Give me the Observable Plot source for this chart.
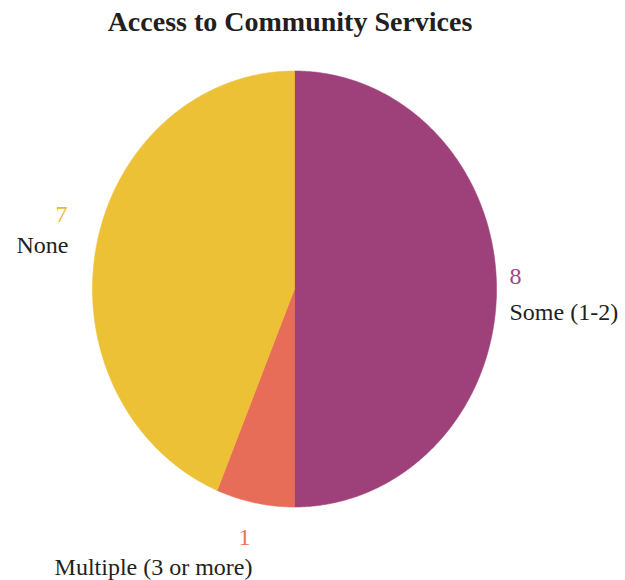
<!DOCTYPE html>
<html><head><meta charset="utf-8">
<script src="https://cdn.jsdelivr.net/npm/d3@7"></script>
<script src="https://cdn.jsdelivr.net/npm/@observablehq/plot@0.6"></script>
<style>
body{margin:0;background:#fff;}
#title{width:580px;height:50px;box-sizing:border-box;padding-top:8px;text-align:center;font-weight:bold;font-size:28px;line-height:28px;font-family:"Times New Roman",Times,"Liberation Serif","DejaVu Serif",serif;color:#231F20;}
#chart svg{display:block;}
</style></head>
<body>
<div id="title">Access to Community Services</div>
<div id="chart"></div>
<script>
const categories = ["Some (1-2)", "Multiple (3 or more)", "None"];
const counts = [8, 1, 7];
const sliceColors = ["#9E4079", "#E86D59", "#ECC136"];
const numberColors = ["#A2457F", "#EC7462", "#EAB92E"];
const serif = '"Times New Roman", Times, "Liberation Serif", "DejaVu Serif", serif';

const arcs = d3.pie().sort(null).value(d => d)(counts);
const pts = [];
arcs.forEach((a, i) => {
  const cat = categories[i];
  pts.push({cat, x: 0, y: 0});
  const n = Math.max(2, Math.ceil((a.endAngle - a.startAngle) / 0.005));
  for (let k = 0; k <= n; k++) {
    const t = a.startAngle + (a.endAngle - a.startAngle) * k / n;
    pts.push({cat, x: Math.sin(t), y: Math.cos(t)});
  }
  pts.push({cat, x: 0, y: 0});
});

const labels = arcs.map((a, i) => {
  const m = (a.startAngle + a.endAngle) / 2;
  return {cat: categories[i], count: counts[i], x: Math.sin(m), y: Math.cos(m), i};
});
const layout = {
  "Some (1-2)": {anchor: "start", num: [13, -12.5], name: [13, 23.5]},
  "None": {anchor: "end", num: [-29, -32], name: [-28, -1]},
  "Multiple (3 or more)": {anchor: "end", num: [-4.6, 35], name: [-2.6, 65]}
};

const textMarks = [];
labels.forEach(l => {
  const L = layout[l.cat];
  textMarks.push(Plot.text([l], {x: "x", y: "y", text: d => String(d.count), textAnchor: L.anchor,
    dx: L.num[0], dy: L.num[1], fill: numberColors[l.i], fontSize: 24, fontFamily: serif}));
  textMarks.push(Plot.text([l], {x: "x", y: "y", text: "cat", textAnchor: L.anchor,
    dx: L.name[0], dy: L.name[1], fill: "#231F20", fontSize: 24, fontFamily: serif}));
});

const chart = Plot.plot({
  width: 625, height: 530,
  marginLeft: 92, marginRight: 129, marginTop: 20.5, marginBottom: 73.5,
  x: {domain: [-1, 1], axis: null},
  y: {domain: [-1, 1], axis: null},
  color: {domain: categories, range: sliceColors},
  style: {background: "#fff", overflow: "visible", fontFamily: serif},
  marks: [
    Plot.line(pts, {x: "x", y: "y", z: "cat", fill: "cat", stroke: "cat", strokeWidth: 0.6, curve: "linear"}),
    ...textMarks
  ]
});
document.getElementById("chart").appendChild(chart);
</script>
</body></html>
